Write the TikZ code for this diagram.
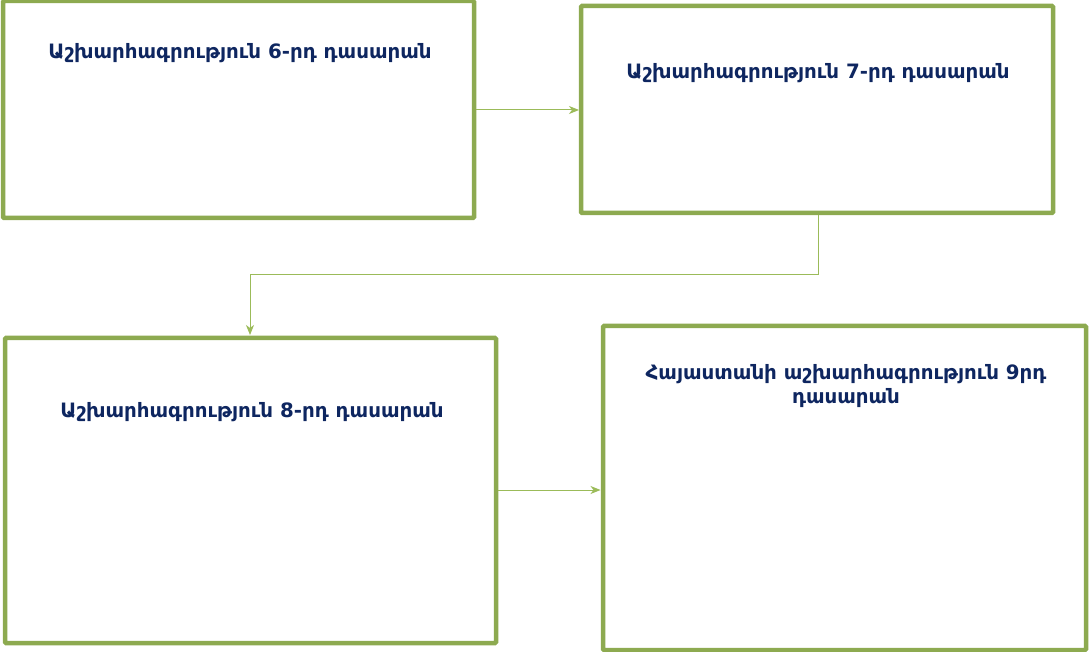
\documentclass[tikz,border=0pt]{standalone}
\usepackage{fontspec}
\newfontfamily\armfont{DejaVu Sans}
\usetikzlibrary{arrows.meta}
\definecolor{boxgreen}{RGB}{141,170,80}
\definecolor{arrowgreen}{RGB}{155,187,89}
\definecolor{navy}{RGB}{14,38,96}
\begin{document}
\begin{tikzpicture}[x=1pt,y=1pt,
  box/.style={draw=boxgreen,line width=4.5pt,rounded corners=1pt,fill=white},
  lbl/.style={font=\armfont\bfseries\fontsize{19.8}{24}\selectfont,text=navy,align=center,inner sep=0pt},
  conn/.style={draw=arrowgreen,line width=1pt,-{Stealth[length=10pt,width=8pt,inset=3pt]}}]
\useasboundingbox (0,0) rectangle (1089,651);
\clip (0,0) rectangle (1089,651);
% boxes (y = 651 - image y)
\draw[box] (3,433) rectangle (474,650);
\draw[box] (581,438) rectangle (1053,645);
\draw[box] (5,8) rectangle (496,313);
\draw[box] (603,1) rectangle (1086,325);
\coordinate (b1e) at (476,541);
\coordinate (b2w) at (579,541);
\coordinate (b2s) at (818,436);
\coordinate (bend1) at (818,376);
\coordinate (bend2) at (250,376);
\coordinate (b3n) at (250,316);
\coordinate (b3e) at (498,161);
\coordinate (b4w) at (600.5,161);
% texts
\node[lbl] (t1) at (240,598) {Աշխարհագրություն 6-րդ դասարան};
\node[lbl] (t2) at (818,578) {Աշխարհագրություն 7-րդ դասարան};
\node[lbl] (t3) at (252,239) {Աշխարհագրություն 8-րդ դասարան};
\node[lbl] (t4) at (846,265) {Հայաստանի աշխարհագրություն 9րդ\\դասարան};
% connectors
\draw[conn] (b1e) -- (b2w);
\draw[conn] (b2s) -- (bend1) -- (bend2) -- (b3n);
\draw[conn] (b3e) -- (b4w);
\end{tikzpicture}
\end{document}
